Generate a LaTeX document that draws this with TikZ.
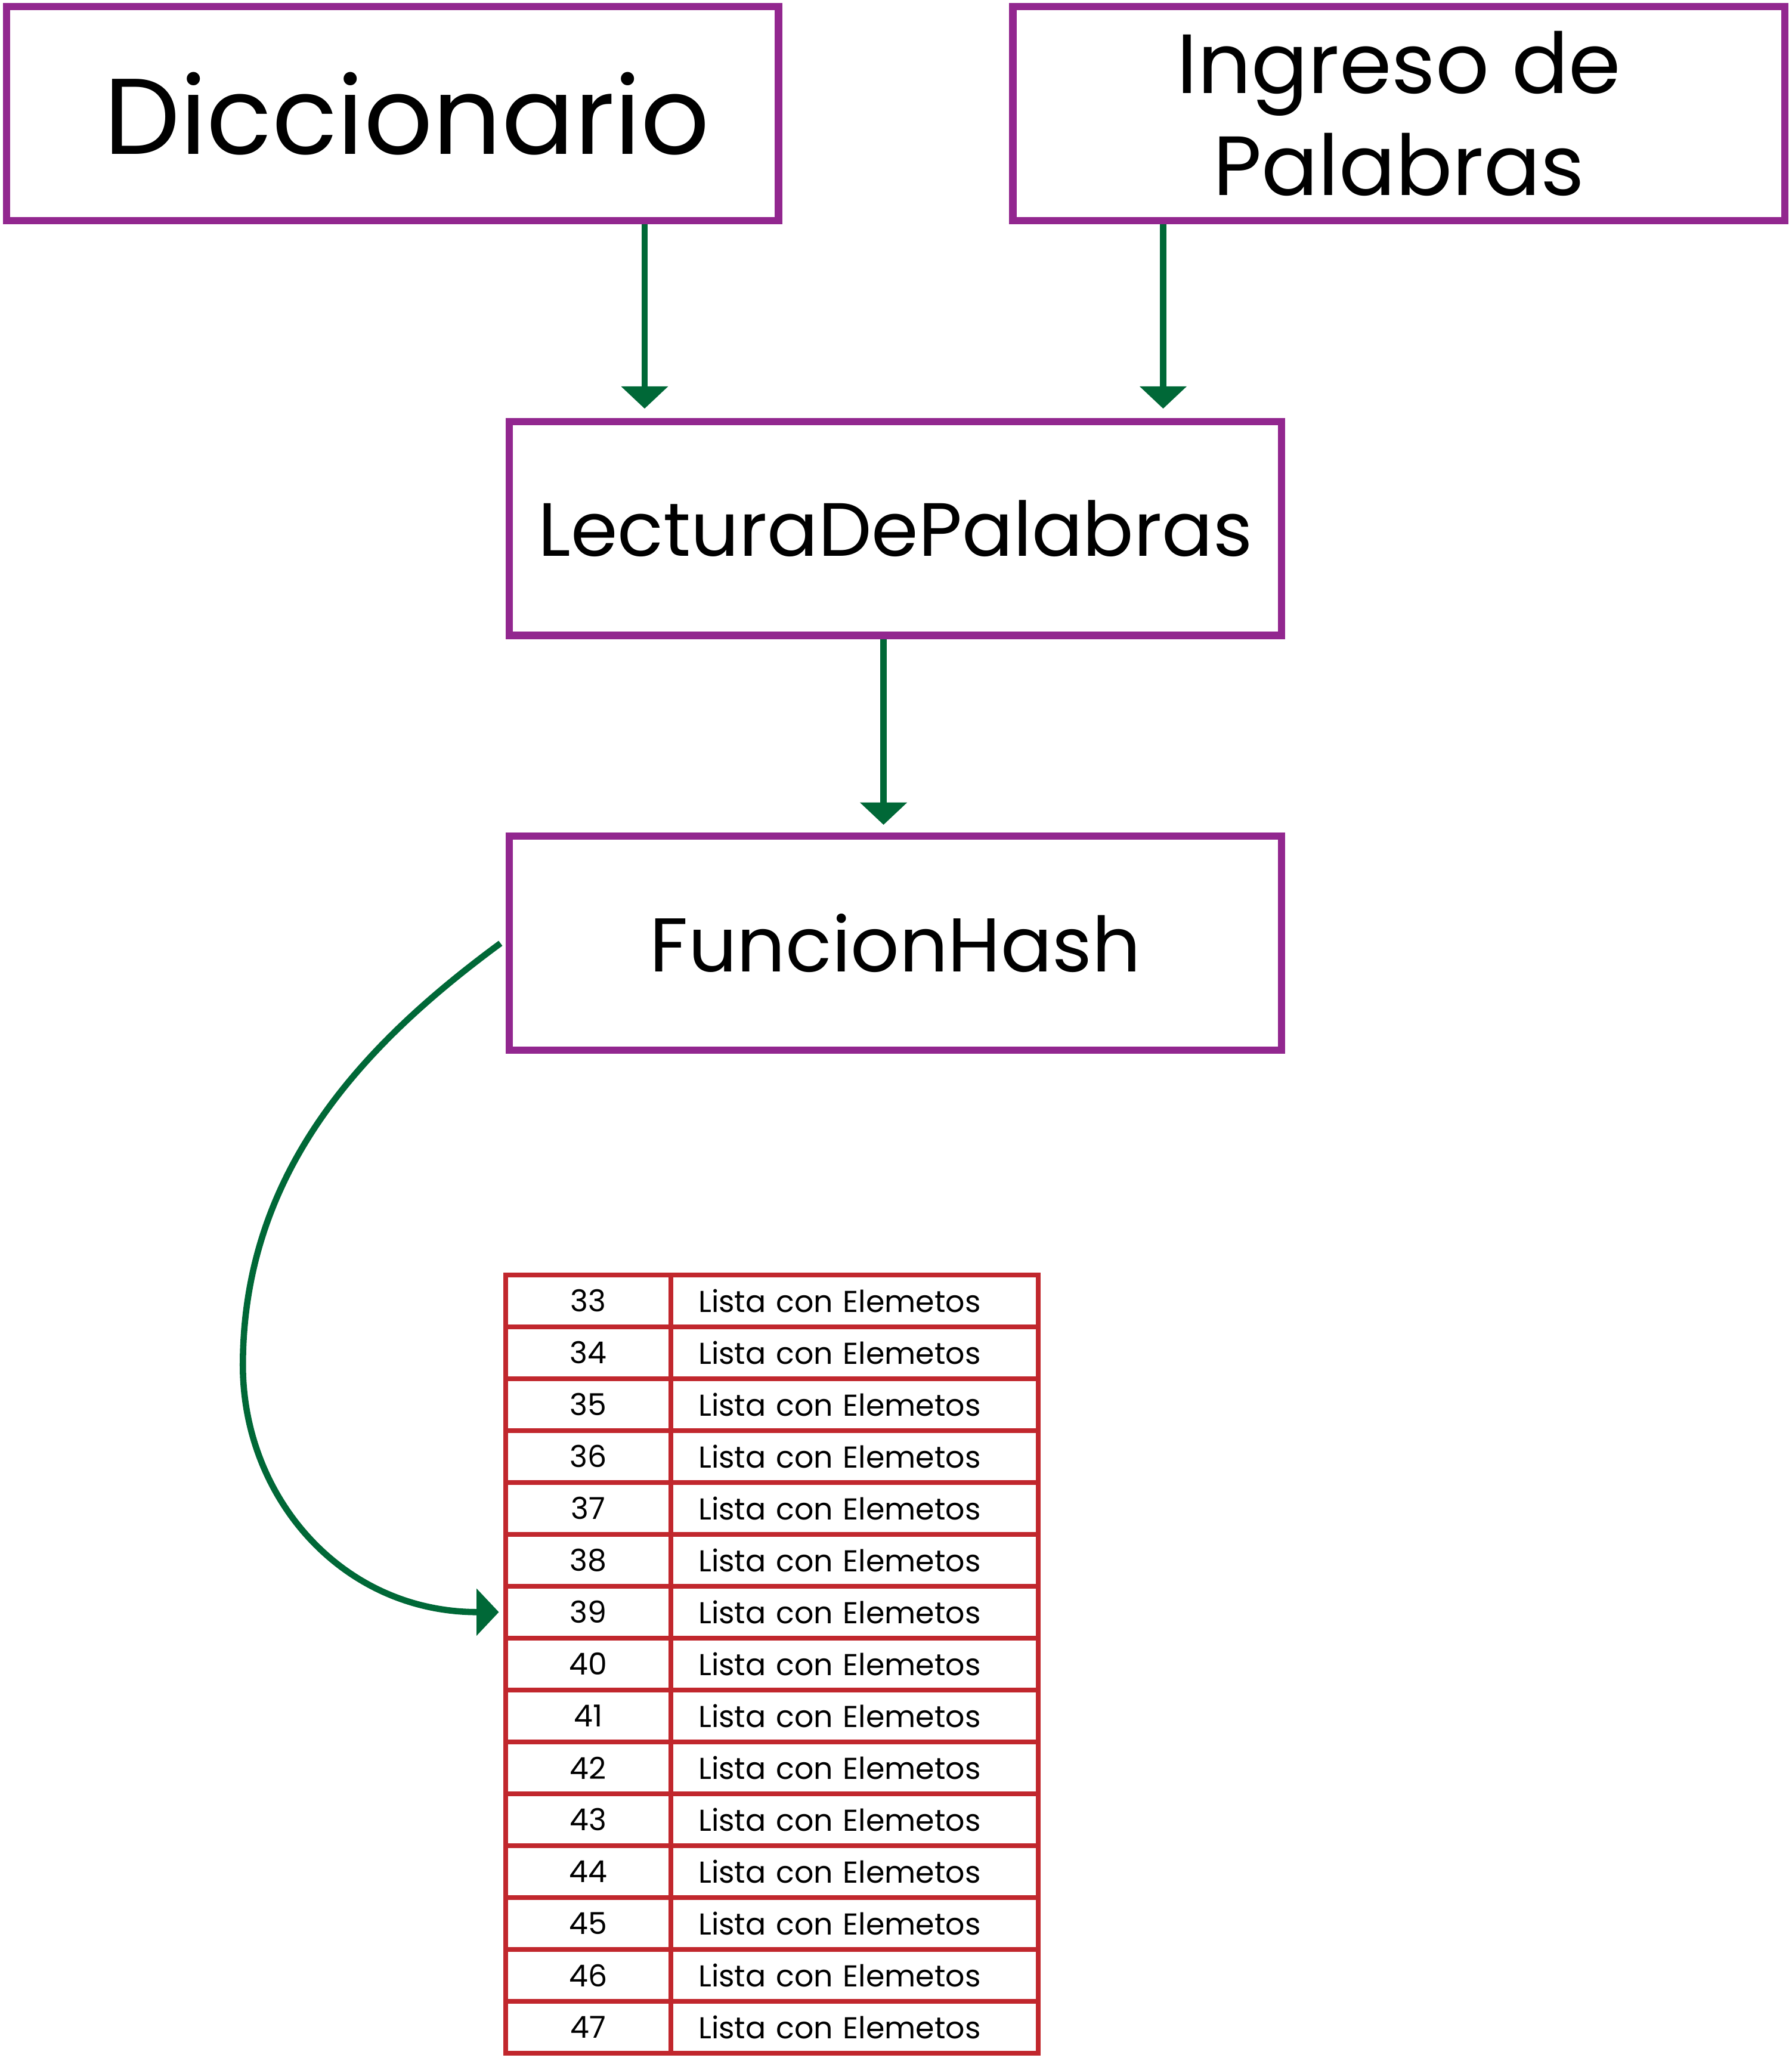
\documentclass[tikz,border=0pt]{standalone}
\usepackage{fontspec}
\setmainfont{Poppins}
\usetikzlibrary{arrows.meta,positioning}
\definecolor{boxpurple}{HTML}{92278F}
\definecolor{flowgreen}{HTML}{006837}
\definecolor{tablered}{HTML}{C1272D}
\begin{document}
\begin{tikzpicture}[x=1pt,y=1pt,
    block/.style={draw=boxpurple,line width=5.5pt,minimum width=588pt,minimum height=163pt,inner sep=0pt,align=center},
    flow/.style={draw=flowgreen,line width=4.8pt,-{Triangle[width=35pt,length=17pt]}},
    cell/.style={draw=tablered,line width=3.6pt,minimum height=39.53pt,inner sep=0pt,outer sep=0pt,font=\fontsize{23}{28}\selectfont}]
\useasboundingbox (0,0) rectangle (1365,-1567.6);
% entradas
\node[block,font=\fontsize{82}{100}\selectfont] (dicc) at (299,-86.5) {\hspace*{22pt}Diccionario};
\node[block,font=\fontsize{64}{78}\selectfont] (ingreso) at (1065.5,-86.5) {Ingreso de\\Palabras};
\node[block,font=\fontsize{57.5}{72}\selectfont] (lectura) at (682,-402.5) {LecturaDePalabras};
\node[block,font=\fontsize{58}{72}\selectfont] (hash) at (682,-718.5) {FuncionHash};
\draw[flow,shorten >=7pt] ([xshift=192pt]dicc.south) -- ([xshift=192pt]dicc.south |- lectura.north);
\draw[flow,shorten >=7pt] ([xshift=-179.5pt]ingreso.south) -- ([xshift=-179.5pt]ingreso.south |- lectura.north);
\draw[flow,shorten >=6pt] ([xshift=-9pt]lectura.south) -- ([xshift=-9pt]hash.north);
% tabla hash
\foreach \n [count=\i from 0] in {33,...,47}{
    \node[cell,minimum width=126pt] (num\n) at (448,{-971-39.53*(\i+0.5)}) {\n};
    \node[cell,minimum width=280pt,text width=238pt,inner xsep=21pt,align=left,anchor=west] (lst\n) at (num\n.east) {Lista con Elemetos};
}
\draw[flow] ([xshift=-4pt]hash.west) .. controls (280,-793) and (185,-890) .. (185,-1040)
    .. controls (185,-1140) and (260,-1228) .. ([xshift=-5pt]num39.west);
\end{tikzpicture}
\end{document}
